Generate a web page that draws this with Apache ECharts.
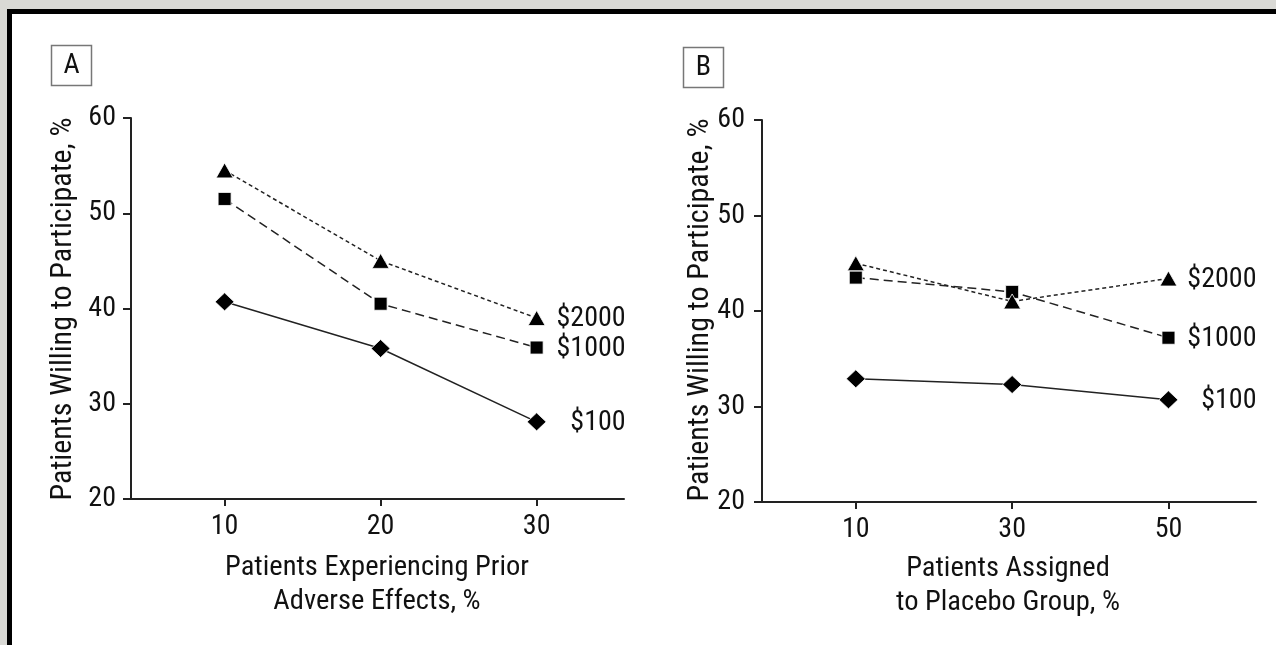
<!doctype html>
<html>
<head>
<meta charset="UTF-8">
<title>Patients willing to participate</title>
<script src="https://cdn.jsdelivr.net/npm/echarts@6/dist/echarts.min.js"></script>
<style>
  html, body { margin: 0; padding: 0; background: #d9d9d5; }
  #chart { width: 1276px; height: 645px; }
</style>
</head>
<body>
<div id="chart"></div>
<script>
// panel A: prior adverse effects
var xA = [10, 20, 30];
var a2000 = [54.5, 45.0, 39.0];
var a1000 = [51.5, 40.5, 35.9];
var a100 = [40.7, 35.8, 28.1];
// panel B: placebo group
var xB = [10, 30, 50];
var b2000 = [45.0, 41.0, 43.4];
var b1000 = [43.5, 42.0, 37.2];
var b100 = [32.9, 32.3, 30.7];
var names = ['$100', '$1000', '$2000'];

// Roboto is a variable font here, 'condensed' gives the Helvetica Condensed look
var FAM = 'Roboto, "Liberation Sans", sans-serif';
var INK = '#111';

function font(size) {
  return 'condensed normal ' + size + 'px ' + FAM;
}

function makeSeries(name, ys, xs, idx, symbol, size, dash, labelDx) {
  var data = xs.map(function(x, i) {
    var item = { value: [x, ys[i]] };
    if (i === xs.length - 1) {
      item.label = {
        show: true,
        position: 'inside',
        align: 'right',
        verticalAlign: 'middle',
        offset: [labelDx, 1],
        formatter: name,
        color: INK,
        fontStyle: 'condensed',
        fontSize: 28,
        fontFamily: FAM,
        textBorderWidth: 0
      };
    }
    return item;
  });
  return {
    name: name,
    type: 'line',
    xAxisIndex: idx,
    yAxisIndex: idx,
    data: data,
    symbol: symbol,
    symbolSize: size,
    showAllSymbol: true,
    lineStyle: { color: '#222', width: 1.5, type: dash },
    itemStyle: { color: '#000', borderColor: '#fff', borderWidth: 0.8 },
    emphasis: { disabled: true },
    animation: false
  };
}

function xAxisOpt(idx, min, max, ticks) {
  return {
    type: 'value', gridIndex: idx, min: min, max: max,
    axisLine: { show: true, onZero: false, lineStyle: { color: '#222', width: 2 } },
    axisTick: { show: true, length: 7, customValues: ticks, lineStyle: { color: '#222', width: 2 } },
    axisLabel: { customValues: ticks, margin: 14, color: INK, fontStyle: 'condensed', fontSize: 28, fontFamily: FAM },
    splitLine: { show: false }
  };
}

function yAxisOpt(idx, margin) {
  return {
    type: 'value', gridIndex: idx, min: 20, max: 60, interval: 10,
    axisLine: { show: true, onZero: false, lineStyle: { color: '#222', width: 2 } },
    axisTick: { show: true, length: 8, lineStyle: { color: '#222', width: 2 } },
    axisLabel: { margin: margin, color: INK, fontStyle: 'condensed', fontSize: 28, fontFamily: FAM },
    splitLine: { show: false }
  };
}

var chart = echarts.init(document.getElementById('chart'));

var option = {
  backgroundColor: '#d9d9d5',
  grid: [
    { left: 131, top: 118, width: 493, height: 381 },
    { left: 762, top: 120, width: 494, height: 382 }
  ],
  xAxis: [xAxisOpt(0, 4, 35.6, xA), xAxisOpt(1, -2, 61.2, xB)],
  yAxis: [yAxisOpt(0, 15), yAxisOpt(1, 17)],
  series: [
    makeSeries(names[0], a100, xA, 0, 'diamond', [19, 18], 'solid', 89),
    makeSeries(names[1], a1000, xA, 0, 'rect', 13, [9, 5], 89),
    makeSeries(names[2], a2000, xA, 0, 'triangle', [17, 15], [4, 3], 89),
    makeSeries(names[0], b100, xB, 1, 'diamond', [19, 18], 'solid', 88),
    makeSeries(names[1], b1000, xB, 1, 'rect', 13, [9, 5], 88),
    makeSeries(names[2], b2000, xB, 1, 'triangle', [17, 15], [4, 3], 88)
  ],
  graphic: {
    elements: [
      { type: 'rect', z: -100, silent: true, shape: { x: 7, y: 9, width: 1300, height: 700 }, style: { fill: '#000' } },
      { type: 'rect', z: -99, silent: true, shape: { x: 12, y: 14, width: 1300, height: 700 }, style: { fill: '#fff' } },
      // panel letters
      { type: 'rect', shape: { x: 51.5, y: 45.5, width: 40, height: 40 }, style: { fill: 'none', stroke: '#777', lineWidth: 1.5 } },
      { type: 'text', x: 71.5, y: 66, style: { text: 'A', fill: INK, font: font(28), align: 'center', verticalAlign: 'middle' } },
      { type: 'rect', shape: { x: 683.5, y: 47.5, width: 40, height: 40 }, style: { fill: 'none', stroke: '#777', lineWidth: 1.5 } },
      { type: 'text', x: 703.5, y: 68, style: { text: 'B', fill: INK, font: font(28), align: 'center', verticalAlign: 'middle' } },
      // axis titles
      { type: 'text', x: 63, y: 309, rotation: Math.PI / 2, style: { text: 'Patients Willing to Participate, %', fill: INK, font: font(30), align: 'center', verticalAlign: 'middle' } },
      { type: 'text', x: 700, y: 310, rotation: Math.PI / 2, style: { text: 'Patients Willing to Participate, %', fill: INK, font: font(30), align: 'center', verticalAlign: 'middle' } },
      { type: 'text', x: 377, y: 585, style: { text: 'Patients Experiencing Prior\nAdverse Effects, %', fill: INK, font: font(28.5), lineHeight: 34, align: 'center', verticalAlign: 'middle' } },
      { type: 'text', x: 1008, y: 586, style: { text: 'Patients Assigned\nto Placebo Group, %', fill: INK, font: font(28.5), lineHeight: 34, align: 'center', verticalAlign: 'middle' } }
    ]
  }
};
chart.setOption(option);
</script>
</body>
</html>
